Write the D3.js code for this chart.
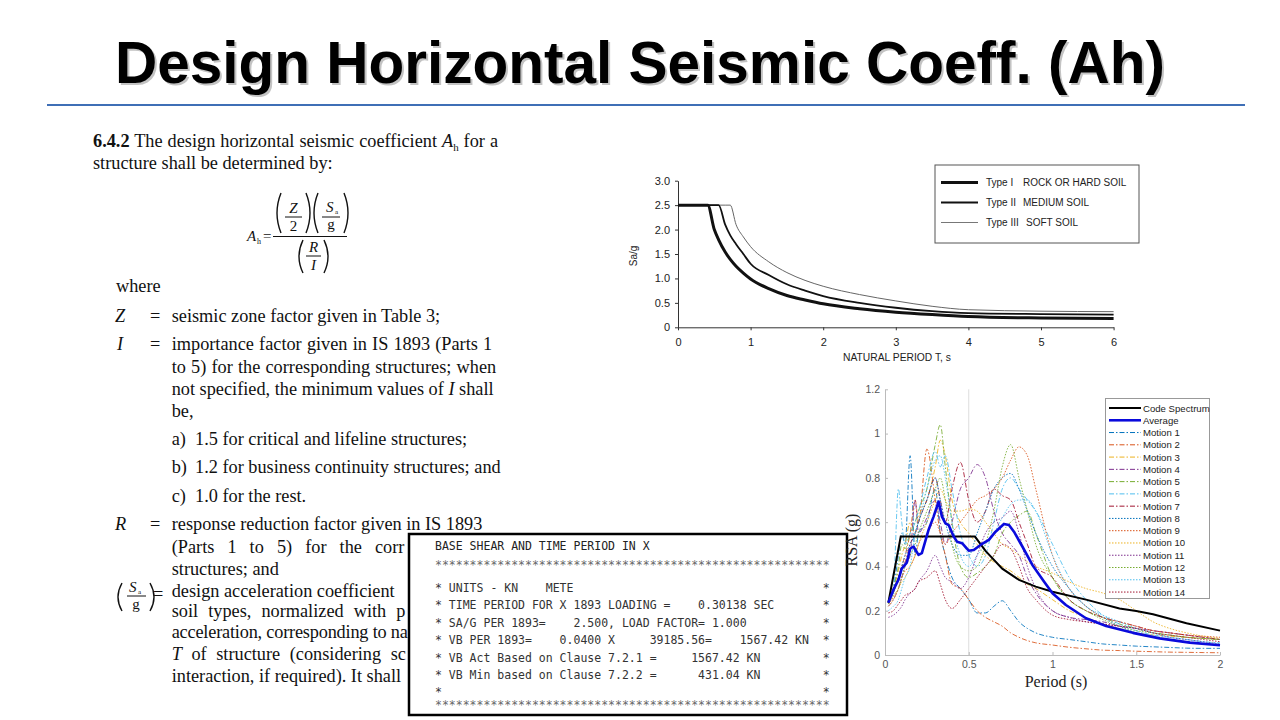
<!DOCTYPE html>
<html><head><meta charset="utf-8">
<script src="https://cdn.jsdelivr.net/npm/d3@7"></script>
<style>body{margin:0;background:#fff}svg{display:block}</style>
</head><body>
<svg id="c" width="1280" height="720"></svg>
<script>
// ---------------- DATA ----------------
const titleText = "Design Horizontal Seismic Coeff. (Ah)";

// IS 1893 spectra (top chart)
const spectrumPeriods = [0,0.41,0.5,0.56,0.65,0.72,0.8,0.9,1.0,1.25,1.5,1.75,2.0,2.5,3.0,3.5,4.0,5.0,6.0];
const typeI   = [2.5,2.5,2.0,1.79,1.54,1.39,1.25,1.11,0.99,0.79,0.65,0.56,0.48,0.38,0.31,0.26,0.22,0.19,0.18];
const typeII  = [2.5,2.5,2.5,2.5,2.1,1.88,1.7,1.5,1.3,1.07,0.88,0.75,0.64,0.5,0.4,0.33,0.29,0.27,0.26];
const typeIII = [2.5,2.5,2.5,2.5,2.5,2.5,2.1,1.85,1.65,1.34,1.12,0.96,0.84,0.67,0.54,0.43,0.36,0.33,0.32];
const spectrumTicksX = [0,1,2,3,4,5,6];
const spectrumTicksY = [0,0.5,1.0,1.5,2.0,2.5,3.0];
const soilTypes = ["Type I","Type II","Type III"];
const soilNames = ["ROCK OR HARD SOIL","MEDIUM SOIL","SOFT SOIL"];

// Response spectra (bottom chart)
const rsaPeriods = [0.02,0.05,0.08,0.1,0.12,0.15,0.18,0.2,0.25,0.3,0.33,0.36,0.4,0.45,0.5,0.55,0.6,0.65,0.7,0.75,0.8,0.85,0.9,1.0,1.1,1.2,1.3,1.4,1.5,1.6,1.7,1.8,1.9,2.0];
const motion1  = [0.24,0.30,0.45,0.55,0.5,0.90,0.45,0.55,0.6,0.75,0.55,0.45,0.35,0.3,0.25,0.19,0.19,0.22,0.245,0.2,0.15,0.12,0.1,0.08,0.07,0.06,0.05,0.045,0.04,0.037,0.034,0.031,0.03,0.03];
const motion2  = [0.24,0.28,0.35,0.4,0.45,0.55,0.7,0.6,0.93,0.7,0.55,0.45,0.32,0.3,0.25,0.2,0.17,0.15,0.13,0.1,0.08,0.065,0.055,0.045,0.035,0.028,0.022,0.02,0.017,0.015,0.013,0.012,0.011,0.01];
const motion3  = [0.24,0.3,0.38,0.45,0.5,0.6,0.55,0.62,0.7,0.85,0.97,0.9,0.7,0.6,0.55,0.5,0.45,0.42,0.4,0.38,0.35,0.32,0.3,0.25,0.2,0.17,0.14,0.12,0.1,0.09,0.085,0.08,0.075,0.07];
const motion4  = [0.22,0.25,0.3,0.35,0.4,0.45,0.7,0.55,0.62,0.7,0.6,0.5,0.6,0.75,0.8,0.86,0.8,0.65,0.55,0.5,0.45,0.35,0.28,0.2,0.17,0.16,0.15,0.13,0.12,0.11,0.1,0.09,0.08,0.07];
const motion5  = [0.24,0.3,0.4,0.5,0.48,0.55,0.6,0.65,0.75,0.95,1.04,0.85,0.6,0.4,0.35,0.37,0.4,0.45,0.55,0.6,0.63,0.65,0.55,0.35,0.25,0.2,0.17,0.14,0.12,0.1,0.09,0.08,0.075,0.07];
const motion6  = [0.24,0.3,0.75,0.6,0.5,0.55,0.6,0.65,0.8,0.92,0.85,0.9,0.75,0.55,0.45,0.4,0.45,0.6,0.75,0.8,0.75,0.7,0.65,0.5,0.35,0.25,0.18,0.14,0.11,0.09,0.08,0.07,0.06,0.055];
const motion7  = [0.24,0.3,0.35,0.4,0.42,0.5,0.55,0.6,0.7,0.8,0.7,0.6,0.75,0.87,0.7,0.6,0.65,0.75,0.72,0.7,0.6,0.5,0.4,0.35,0.25,0.2,0.17,0.15,0.13,0.11,0.1,0.09,0.08,0.07];
const motion8  = [0.24,0.28,0.35,0.4,0.45,0.5,0.55,0.6,0.7,0.8,0.7,0.6,0.5,0.45,0.45,0.55,0.65,0.75,0.8,0.82,0.75,0.65,0.55,0.4,0.3,0.22,0.17,0.13,0.1,0.08,0.07,0.06,0.05,0.045];
const motion9  = [0.23,0.26,0.3,0.35,0.38,0.4,0.45,0.5,0.55,0.6,0.55,0.5,0.55,0.6,0.65,0.7,0.72,0.75,0.8,0.88,0.94,0.9,0.75,0.45,0.3,0.22,0.17,0.15,0.13,0.11,0.1,0.09,0.085,0.08];
const motion10 = [0.22,0.25,0.3,0.33,0.35,0.4,0.45,0.5,0.6,0.7,0.75,0.7,0.65,0.65,0.66,0.65,0.6,0.55,0.5,0.48,0.45,0.42,0.4,0.37,0.33,0.3,0.28,0.25,0.2,0.15,0.12,0.1,0.085,0.075];
const motion11 = [0.17,0.18,0.2,0.22,0.25,0.28,0.3,0.33,0.38,0.45,0.4,0.35,0.33,0.3,0.35,0.45,0.55,0.6,0.62,0.65,0.55,0.4,0.3,0.2,0.17,0.15,0.14,0.13,0.12,0.1,0.08,0.07,0.06,0.05];
const motion12 = [0.23,0.27,0.3,0.35,0.4,0.45,0.5,0.55,0.65,0.75,0.8,0.7,0.5,0.4,0.38,0.4,0.5,0.65,0.85,0.95,0.8,0.65,0.5,0.35,0.25,0.2,0.16,0.13,0.11,0.1,0.09,0.08,0.075,0.07];
const motion13 = [0.2,0.22,0.25,0.3,0.35,0.4,0.55,0.6,0.75,0.88,0.9,0.8,0.6,0.45,0.4,0.45,0.5,0.55,0.62,0.68,0.7,0.7,0.65,0.45,0.3,0.22,0.18,0.15,0.12,0.1,0.08,0.07,0.06,0.05];
const motion14 = [0.19,0.2,0.23,0.25,0.27,0.28,0.3,0.33,0.35,0.38,0.32,0.25,0.21,0.25,0.3,0.35,0.4,0.45,0.5,0.48,0.4,0.3,0.25,0.18,0.16,0.15,0.14,0.13,0.12,0.1,0.09,0.08,0.07,0.06];
const avgPeriods = [0.02,0.05,0.08,0.1,0.13,0.15,0.17,0.2,0.22,0.26,0.29,0.32,0.34,0.36,0.38,0.41,0.43,0.46,0.5,0.53,0.57,0.62,0.66,0.71,0.74,0.77,0.82,0.88,0.95,1.0,1.08,1.2,1.32,1.48,1.64,1.82,2.0];
const avgValues  = [0.236,0.294,0.339,0.39,0.417,0.48,0.49,0.452,0.46,0.565,0.625,0.693,0.625,0.595,0.587,0.535,0.512,0.505,0.471,0.474,0.497,0.52,0.557,0.592,0.587,0.557,0.49,0.407,0.331,0.279,0.226,0.166,0.131,0.1,0.075,0.056,0.044];
const codePeriods = [0.02,0.094,0.537,0.6,0.7,0.8,0.9,1.0,1.2,1.4,1.5,1.6,1.8,2.0];
const codeValues  = [0.236,0.535,0.535,0.47,0.39,0.339,0.309,0.286,0.25,0.21,0.199,0.184,0.143,0.11];
const rsaTicksX = [0,0.5,1,1.5,2];
const rsaTicksY = [0,0.2,0.4,0.6,0.8,1,1.2];
const motionColors = ["#0072BD","#D95319","#EDB120","#7E2F8E","#77AC30","#4DBEEE","#A2142F"];
const motionNames = ["Motion 1","Motion 2","Motion 3","Motion 4","Motion 5","Motion 6","Motion 7","Motion 8","Motion 9","Motion 10","Motion 11","Motion 12","Motion 13","Motion 14"];

// Text box output
const boxTitle = "BASE SHEAR AND TIME PERIOD IN X";
const boxRows = [
  "* UNITS - KN    METE",
  "* TIME PERIOD FOR X 1893 LOADING =    0.30138 SEC",
  "* SA/G PER 1893=    2.500, LOAD FACTOR= 1.000",
  "* VB PER 1893=    0.0400 X     39185.56=    1567.42 KN",
  "* VB Act Based on Clause 7.2.1 =     1567.42 KN",
  "* VB Min based on Clause 7.2.2 =      431.04 KN",
  "*"
];

// ---------------- DRAWING ----------------
const SANS = "'Liberation Sans', Arial, sans-serif";
const SERIF = "'Liberation Serif', 'Times New Roman', serif";
const MONO = "'DejaVu Sans Mono', 'Liberation Mono', monospace";
const svg = d3.select("#c");
svg.append("rect").attr("width",1280).attr("height",720).attr("fill","#fff");

svg.append("defs").append("clipPath").attr("id","leftclip")
  .append("rect").attr("x",0).attr("y",0).attr("width",409).attr("height",720);

// Title
svg.append("text").attr("x",117).attr("y",85).text(titleText)
  .attr("font-family",SANS).attr("font-weight","bold").attr("font-size",58.5).attr("fill","#aaa").attr("opacity",0.7);
svg.append("text").attr("x",115).attr("y",83).text(titleText)
  .attr("font-family",SANS).attr("font-weight","bold").attr("font-size",58.5).attr("fill","#000");
svg.append("line").attr("x1",47).attr("x2",1245).attr("y1",105).attr("y2",105)
  .attr("stroke","#3f6fb6").attr("stroke-width",2);

// ---- left text ----
const FS = 18.3;
function rich(g, x, y, parts, opts) {
  opts = opts || {};
  const t = g.append("text").attr("x",x).attr("y",y).attr("font-family",SERIF)
    .attr("font-size",opts.size||FS).attr("fill","#111");
  if (opts.ws) t.attr("word-spacing",opts.ws);
  if (opts.ls) t.attr("letter-spacing",opts.ls);
  let pendingUp = 0;
  parts.forEach(p => {
    if (typeof p === "string") p = {t:p};
    const s = t.append("tspan").text(p.t);
    if (p.i) s.attr("font-style","italic");
    if (p.b) s.attr("font-weight","bold");
    if (p.sub) { s.attr("font-size",(opts.size||FS)*0.6).attr("dy",4); pendingUp = -4; }
    else if (pendingUp) { s.attr("dy",pendingUp); pendingUp = 0; }
  });
  return t;
}
const lt = svg.append("g");
rich(lt, 93, 147, [{t:"6.4.2",b:true}," The design horizontal seismic coefficient ",{t:"A",i:true},{t:"h",sub:true}," for a"], {ws:0.4});
rich(lt, 93, 169, ["structure shall be determined by:"]);

// formula
function paren(g, x, top, bot, dir) {
  const mid = (top+bot)/2, bulge = 5*dir;
  g.append("path").attr("d",`M${x},${top} Q${x-bulge*1.6},${mid} ${x},${bot}`)
    .attr("fill","none").attr("stroke","#111").attr("stroke-width",1.4);
}
const fm = svg.append("g");
function ftxt(x,y,s,italic,size,anchor){
  fm.append("text").attr("x",x).attr("y",y).text(s).attr("font-family",SERIF)
    .attr("font-size",size||15).attr("font-style",italic?"italic":"normal")
    .attr("text-anchor",anchor||"middle").attr("fill","#111");
}
ftxt(247,241,"A",true,15,"start");
ftxt(257,244,"h",false,8,"start");
ftxt(263,241,"=",false,15,"start");
fm.append("line").attr("x1",273).attr("x2",347).attr("y1",236.5).attr("y2",236.5).attr("stroke","#111").attr("stroke-width",1);
paren(fm,281,193,233,1); paren(fm,306,193,233,-1);
ftxt(293.5,213,"Z",true); fm.append("line").attr("x1",285).attr("x2",302).attr("y1",217).attr("y2",217).attr("stroke","#111");
ftxt(293.5,231,"2",false);
paren(fm,318,193,233,1); paren(fm,344,193,233,-1);
ftxt(326,212,"S",true,15,"start"); ftxt(335,214,"a",false,7,"start");
fm.append("line").attr("x1",322).attr("x2",340).attr("y1",217).attr("y2",217).attr("stroke","#111");
ftxt(331,229,"g",false);
paren(fm,303,240,273,1); paren(fm,324,240,273,-1);
ftxt(313.5,252,"R",true); fm.append("line").attr("x1",306).attr("x2",321).attr("y1",256).attr("y2",256).attr("stroke","#111");
ftxt(313.5,270,"I",true);

rich(lt, 116, 292, ["where"]);
rich(lt, 115, 322, [{t:"Z",i:true}]); rich(lt,150,322,["="]); rich(lt,171.7,322,["seismic zone factor given in Table 3;"]);
rich(lt, 117, 350, [{t:"I",i:true}]); rich(lt,150,350,["="]); rich(lt,171.7,350,["importance factor given in IS 1893 (Parts 1"], {ws:0.6});
rich(lt, 171.7, 373, ["to 5) for the corresponding structures; when"], {ws:0.6});
rich(lt, 171.7, 395, ["not specified, the minimum values of ",{t:"I",i:true}," shall"]);
rich(lt, 171.7, 417, ["be,"]);
rich(lt, 171.7, 445, ["a)"]); rich(lt,195,445,["1.5 for critical and lifeline structures;"]);
rich(lt, 171.7, 473, ["b)"]); rich(lt,195,473,["1.2 for business continuity structures; and"]);
rich(lt, 171.7, 502, ["c)"]); rich(lt,195,502,["1.0 for the rest."]);
rich(lt, 115, 530, [{t:"R",i:true}]); rich(lt,150,530,["="]); rich(lt,171.7,530,["response reduction factor given in IS 1893"]);
const lc = svg.append("g").attr("clip-path","url(#leftclip)");
rich(lc, 171.7, 553, ["(Parts 1 to 5) for the corr"], {ws:8.5});
rich(lc, 171.7, 575, ["structures; and"]);
rich(lc, 171.7, 597, ["design acceleration coefficient"]);
rich(lc, 171.7, 617, ["soil types, normalized with p"], {ws:5.5});
rich(lc, 171.7, 638, ["acceleration, corresponding to na"], {ls:-0.2});
rich(lc, 171.7, 660, [{t:"T",i:true}," of structure (considering sc"], {ws:5});
rich(lc, 171.7, 682, ["interaction, if required). It shall"]);
paren(fm,122,583,611,1); paren(fm,150,583,611,-1);
ftxt(129,592,"S",true,15,"start"); ftxt(138,594,"a",false,7,"start");
fm.append("line").attr("x1",127).attr("x2",146).attr("y1",596).attr("y2",596).attr("stroke","#111");
ftxt(136,609,"g",false);
rich(lt,153,600,["="]);

// ---- output box ----
const bx = svg.append("g");
bx.append("rect").attr("x",409).attr("y",534).attr("width",438).attr("height",181)
  .attr("fill","#fff").attr("stroke","#000").attr("stroke-width",2.5);
const nb = s => s.replace(/ /g,"\u00A0");
const monoLine = (y, s, col) => bx.append("text").attr("x",435).attr("y",y).text(nb(s))
  .attr("font-family",MONO).attr("font-size",11.5).attr("fill",col||"#333");
monoLine(549.5, boxTitle, "#222");
monoLine(569, "*".repeat(57), "#666");
const rowY = [591.7,609,626.7,644,661.7,679,696];
boxRows.forEach((r,i) => monoLine(rowY[i], r.padEnd(56," ") + "*", "#333"));
monoLine(709, "*".repeat(57), "#666");

// ---- top chart ----
const xs = d3.scaleLinear().domain([0,6]).range([678,1113.6]);
const ys = d3.scaleLinear().domain([0,3]).range([327.3,180.7]);
const tc = svg.append("g");
const ax1 = tc.append("g").attr("transform","translate(0,327.3)")
  .call(d3.axisBottom(xs).tickValues(spectrumTicksX).tickSize(3).tickSizeOuter(0).tickPadding(8).tickFormat(d3.format("d")));
const ay1 = tc.append("g").attr("transform","translate(678,0)")
  .call(d3.axisLeft(ys).tickValues(spectrumTicksY).tickSize(3).tickSizeOuter(0).tickPadding(5)
    .tickFormat(d => d===0 ? "0" : d.toFixed(1)));
[ax1,ay1].forEach(a => {
  a.selectAll("path,line").attr("stroke","#333");
  a.selectAll("text").attr("font-family",SANS).attr("font-size",11).attr("fill","#222");
});
const line1 = d3.line().x((d,i)=>xs(spectrumPeriods[i])).y(d=>ys(d)).curve(d3.curveMonotoneX);
tc.append("path").attr("d",line1(typeIII)).attr("fill","none").attr("stroke","#666").attr("stroke-width",1);
tc.append("path").attr("d",line1(typeII)).attr("fill","none").attr("stroke","#111").attr("stroke-width",1.8);
tc.append("path").attr("d",line1(typeI)).attr("fill","none").attr("stroke","#111").attr("stroke-width",3);
tc.append("text").attr("transform","translate(637,256) rotate(-90)").attr("text-anchor","middle")
  .text("Sa/g").attr("font-family",SANS).attr("font-size",10).attr("fill","#222");
tc.append("text").attr("x",897).attr("y",361).attr("text-anchor","middle")
  .text("NATURAL PERIOD T, s").attr("font-family",SANS).attr("font-size",10.3).attr("fill","#222");
tc.append("rect").attr("x",935).attr("y",165).attr("width",204).attr("height",78)
  .attr("fill","#fff").attr("stroke","#555").attr("stroke-width",1);
const legW = [3,1.8,1], legC = ["#111","#111","#777"];
soilTypes.forEach((s,i) => {
  const y = 182.5 + i*20;
  tc.append("line").attr("x1",941).attr("x2",978).attr("y1",y).attr("y2",y).attr("stroke",legC[i]).attr("stroke-width",legW[i]);
  tc.append("text").attr("x",986).attr("y",y+3.5).text(s).attr("font-family",SANS).attr("font-size",10).attr("fill","#222");
  tc.append("text").attr("x",[1023,1023,1026][i]).attr("y",y+3.5).text(soilNames[i]).attr("font-family",SANS).attr("font-size",10).attr("fill","#222");
});

// ---- bottom chart ----
const xb = d3.scaleLinear().domain([0,2]).range([885,1220]);
const yb = d3.scaleLinear().domain([0,1.2]).range([655,389.3]);
const bc = svg.append("g");
bc.append("line").attr("x1",xb(0.5)).attr("x2",xb(0.5)).attr("y1",yb(1.2)).attr("y2",yb(0)).attr("stroke","#ddd").attr("stroke-width",1);
const ax2 = bc.append("g").attr("transform",`translate(0,${yb(0)})`)
  .call(d3.axisBottom(xb).tickValues(rsaTicksX).tickSize(-3).tickSizeOuter(0).tickPadding(6).tickFormat(d => String(d)));
const ay2 = bc.append("g").attr("transform",`translate(${xb(0)},0)`)
  .call(d3.axisLeft(yb).tickValues(rsaTicksY).tickSize(-3).tickSizeOuter(0).tickPadding(5).tickFormat(d => String(d)));
[ax2,ay2].forEach(a => {
  a.selectAll("path,line").attr("stroke","#bbb");
  a.selectAll("text").attr("font-family",SANS).attr("font-size",10.5).attr("fill","#555");
});
const motions = [motion1,motion2,motion3,motion4,motion5,motion6,motion7,motion8,motion9,motion10,motion11,motion12,motion13,motion14];
const dashOf = i => i < 7 ? "5,2,1.5,2" : "1.5,1.5";
const mline = d3.line().x((d,i)=>xb(rsaPeriods[i])).y(d=>yb(d)).curve(d3.curveMonotoneX);
motions.forEach((m,i) => {
  bc.append("path").attr("d",mline(m)).attr("fill","none")
    .attr("stroke",motionColors[i%7]).attr("stroke-width",1).attr("stroke-dasharray",dashOf(i)).attr("opacity",0.85);
});
const cline = d3.line().x((d,i)=>xb(codePeriods[i])).y(d=>yb(d));
bc.append("path").attr("d",cline(codeValues)).attr("fill","none").attr("stroke","#000").attr("stroke-width",2);
const aline = d3.line().x((d,i)=>xb(avgPeriods[i])).y(d=>yb(d));
bc.append("path").attr("d",aline(avgValues)).attr("fill","none").attr("stroke","#0a0adc").attr("stroke-width",2.6).attr("stroke-linejoin","round");
bc.append("text").attr("transform","translate(857,540) rotate(-90)").attr("text-anchor","middle")
  .text("RSA (g)").attr("font-family",SERIF).attr("font-size",16).attr("fill","#222");
bc.append("text").attr("x",1056).attr("y",687).attr("text-anchor","middle")
  .text("Period (s)").attr("font-family",SERIF).attr("font-size",16).attr("fill","#222");
bc.append("rect").attr("x",1105.5).attr("y",398.5).attr("width",104).attr("height",200)
  .attr("fill","#fff").attr("stroke","#999").attr("stroke-width",1);
const legItems = [{n:"Code Spectrum",c:"#000",w:2,d:null},{n:"Average",c:"#0a0adc",w:2.6,d:null}]
  .concat(motionNames.map((n,i)=>({n:n,c:motionColors[i%7],w:1,d:dashOf(i)})));
legItems.forEach((it,i) => {
  const y = 408 + i*12.27;
  const l = bc.append("line").attr("x1",1109).attr("x2",1141).attr("y1",y).attr("y2",y).attr("stroke",it.c).attr("stroke-width",it.w);
  if (it.d) l.attr("stroke-dasharray",it.d);
  bc.append("text").attr("x",1143).attr("y",y+3.5).text(it.n).attr("font-family",SANS).attr("font-size",9.6).attr("fill","#222");
});
</script>
</body></html>
